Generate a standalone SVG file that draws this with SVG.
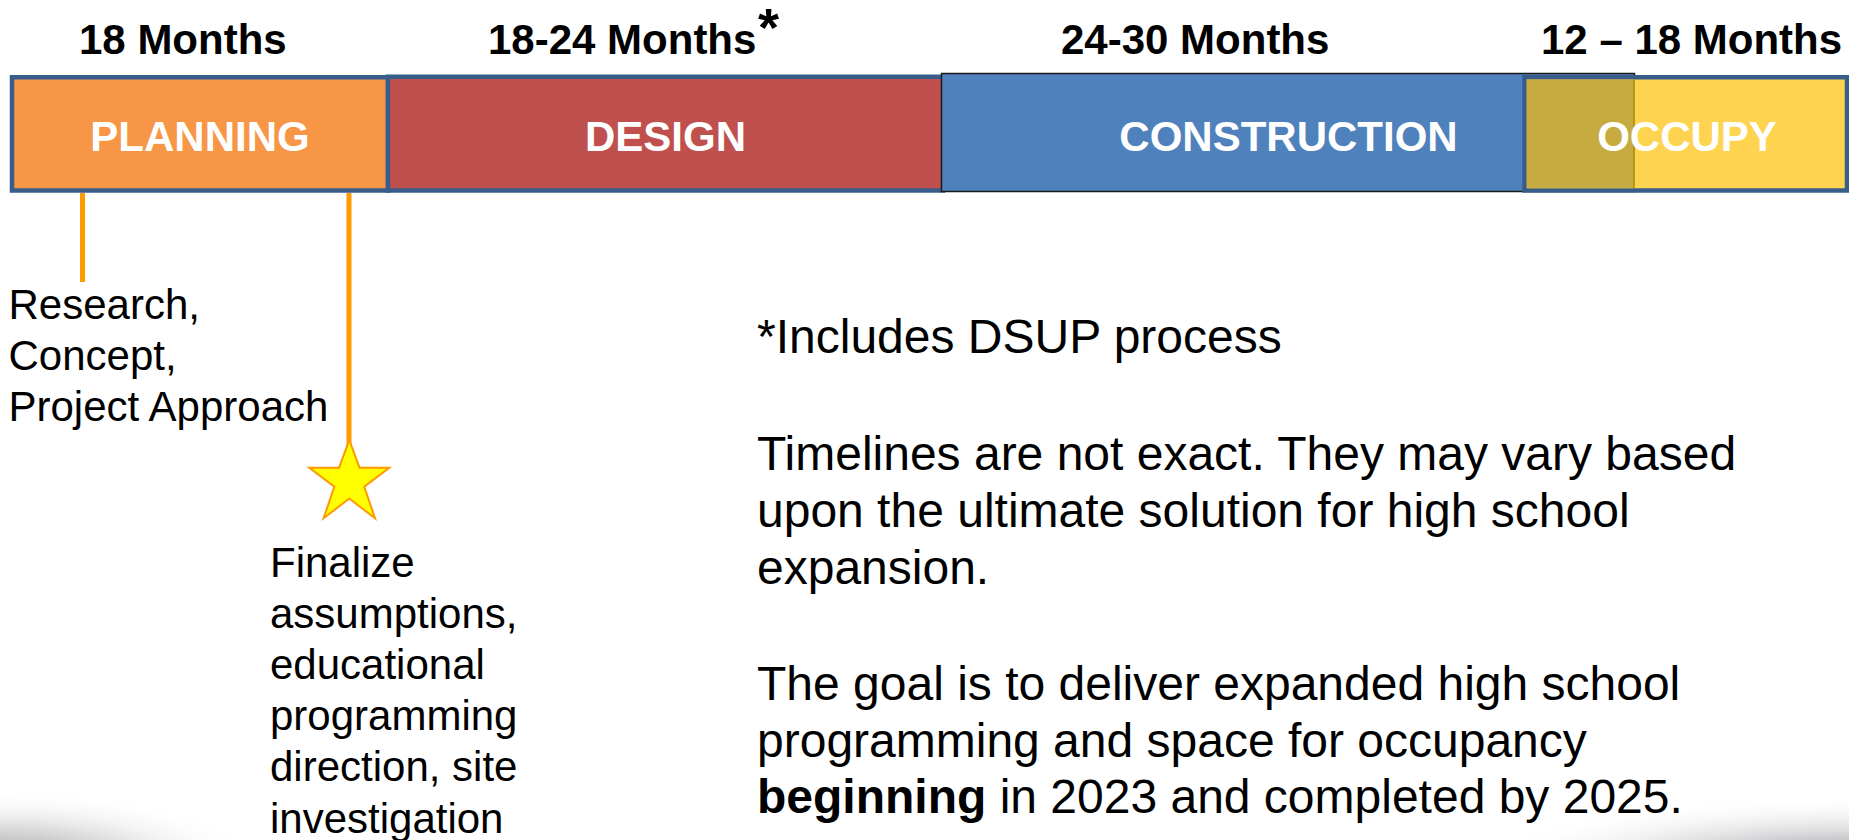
<svg xmlns="http://www.w3.org/2000/svg" width="1849" height="840" viewBox="0 0 1849 840">
  <defs>
    <radialGradient id="shL" cx="0.5" cy="0.5" r="0.5">
      <stop offset="0" stop-color="#8a8a8a" stop-opacity="0.9"/>
      <stop offset="0.5" stop-color="#c8c8c8" stop-opacity="0.6"/>
      <stop offset="1" stop-color="#ffffff" stop-opacity="0"/>
    </radialGradient>
    <radialGradient id="shR" cx="0.5" cy="0.5" r="0.5">
      <stop offset="0" stop-color="#70707a" stop-opacity="0.95"/>
      <stop offset="0.5" stop-color="#c4c4c8" stop-opacity="0.6"/>
      <stop offset="1" stop-color="#ffffff" stop-opacity="0"/>
    </radialGradient>
  </defs>
  <style>
    .hdr { font-family: "Liberation Sans", Arial, sans-serif; font-weight: bold; font-size: 42px; fill: #000; }
    .lbl { font-family: "Liberation Sans", Arial, sans-serif; font-weight: bold; font-size: 42px; fill: #fff; text-anchor: middle; }
    .note { font-family: "Liberation Sans", Arial, sans-serif; font-size: 42px; fill: #000; }
    .body { font-family: "Liberation Sans", Arial, sans-serif; font-size: 48px; fill: #000; }
    .phase { stroke: #385d8a; stroke-width: 4.5; }
    .conn { stroke: #ff9900; stroke-width: 5; fill: none; }
  </style>
  <rect x="0" y="0" width="1849" height="840" fill="#ffffff"/>

  <!-- bottom slide shadow -->
  <g id="shadow">
    <ellipse cx="0" cy="862" rx="260" ry="72" fill="url(#shL)"/>
    <ellipse cx="1849" cy="866" rx="380" ry="70" fill="url(#shR)"/>
  </g>

  <!-- duration headers -->
  <g id="hdr-planning"><text class="hdr" x="79" y="53.5">18 Months</text></g>
  <g id="hdr-design">
    <text class="hdr" x="488" y="53.5">18-24 Months</text>
    <text class="hdr" x="758" y="46" style="font-size:54px">*</text>
  </g>
  <g id="hdr-construction"><text class="hdr" x="1061" y="53.5">24-30 Months</text></g>
  <g id="hdr-occupy"><text class="hdr" x="1541" y="53.5">12 – 18 Months</text></g>

  <!-- phase boxes -->
  <g id="planning">
    <rect class="phase" x="12" y="77.25" width="376" height="113.25" fill="#f79646"/>
    <text class="lbl" x="200" y="150.5">PLANNING</text>
  </g>
  <g id="design">
    <rect class="phase" x="388" y="76.75" width="555" height="113.75" fill="#c0504d"/>
    <text class="lbl" x="665.5" y="150.5">DESIGN</text>
  </g>
  <g id="construction">
    <rect x="941.5" y="73.5" width="693" height="118" fill="#4f81bd" stroke="#1a1a1a" stroke-width="1.5"/>
    <text class="lbl" x="1288.5" y="150.5">CONSTRUCTION</text>
  </g>
  <g id="occupy">
    <rect class="phase" x="1524.5" y="77.25" width="322.5" height="113.25" fill="#fed350"/>
    <rect x="1526.75" y="79.5" width="107" height="108.75" fill="#c6ab41"/>
    <line x1="1634" y1="79.5" x2="1634" y2="188.25" stroke="#a88800" stroke-width="1.5"/>
    <text class="lbl" x="1687" y="150.5">OCCUPY</text>
  </g>

  <!-- connectors -->
  <g id="connectors">
    <line class="conn" x1="82.5" y1="193" x2="82.5" y2="282"/>
    <line class="conn" x1="349" y1="193" x2="349" y2="446"/>
  </g>

  <!-- milestone star -->
  <g id="milestone-star">
    <polygon points="349.3,440 359.5,467.7 389.3,467.7 364.3,486.7 375,518.3 349.3,498.5 323.6,518.3 334.3,486.7 309.3,467.7 339.1,467.7" fill="#ffff00" stroke="#ff9900" stroke-width="2"/>
  </g>

  <!-- annotations -->
  <g id="note-research">
    <text class="note" x="8.5" y="319">Research,</text>
    <text class="note" x="8.5" y="370">Concept,</text>
    <text class="note" x="8.5" y="421">Project Approach</text>
  </g>
  <g id="note-finalize">
    <text class="note" x="270" y="576.7">Finalize</text>
    <text class="note" x="270" y="627.5">assumptions,</text>
    <text class="note" x="270" y="678.5">educational</text>
    <text class="note" x="270" y="729.5">programming</text>
    <text class="note" x="270" y="781">direction, site</text>
    <text class="note" x="270" y="832.5">investigation</text>
  </g>
  <g id="note-body">
    <text class="body" x="757" y="352.5">*Includes DSUP process</text>
    <text class="body" x="757" y="470">Timelines are not exact. They may vary based</text>
    <text class="body" x="757" y="527">upon the ultimate solution for high school</text>
    <text class="body" x="757" y="584">expansion.</text>
    <text class="body" x="757" y="699.5">The goal is to deliver expanded high school</text>
    <text class="body" x="757" y="756.5">programming and space for occupancy</text>
    <text class="body" x="757" y="813"><tspan font-weight="bold">beginning</tspan> in 2023 and completed by 2025.</text>
  </g>
</svg>
